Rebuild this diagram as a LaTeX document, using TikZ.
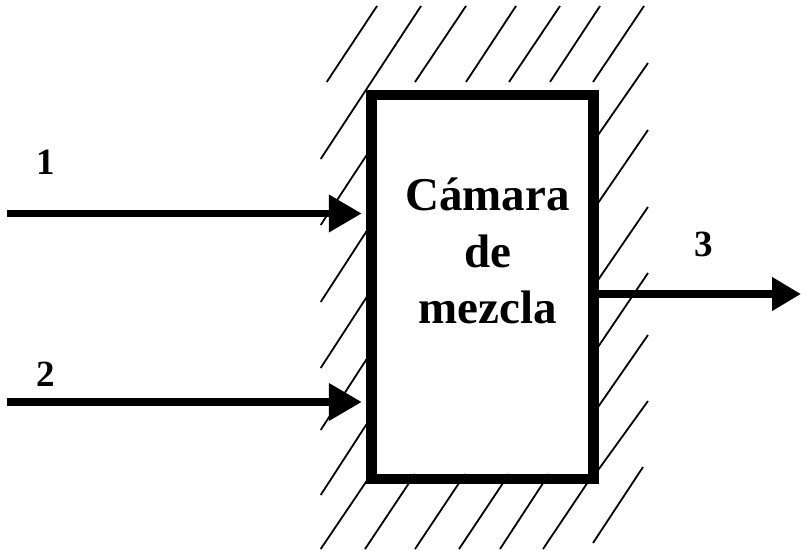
\documentclass[tikz,border=0pt]{standalone}
\usepackage{fontspec}
\setmainfont{Liberation Serif}
\usetikzlibrary{arrows.meta}
\begin{document}
\begin{tikzpicture}[x=1pt,y=-1pt,
  hatch/.style={line width=1.8pt},
  chamber/.style={draw, fill=white, line width=10.5pt,
    minimum width=222pt, minimum height=384pt, inner sep=0pt},
  flow/.style={line width=7.5pt, -{Triangle[length=33pt,width=36pt]}},
  outflow/.style={line width=7.5pt, -{Triangle[length=29pt,width=32pt]}},
  inlabel/.style={font=\bfseries\fontsize{47}{56}\selectfont, anchor=base, inner sep=0pt},
  numlabel/.style={font=\bfseries\fontsize{37}{42}\selectfont, anchor=base, inner sep=0pt}]
\useasboundingbox (0,0) rectangle (801,551);

% wall hatching around the chamber
% top
\draw[hatch] (326.7,82) -- (377,6);
\draw[hatch] (320.7,159) -- (421,6);
\draw[hatch] (415,82) -- (466,6);
\draw[hatch] (466,82) -- (516,6);
\draw[hatch] (509,82) -- (560,6);
\draw[hatch] (550,82) -- (600,6);
\draw[hatch] (593,82) -- (644,6);
% left
\draw[hatch] (320.7,225) -- (368,153);
\draw[hatch] (320.7,302) -- (368,229);
\draw[hatch] (320.7,368) -- (368,295);
\draw[hatch] (320.7,430) -- (368,357);
\draw[hatch] (320.7,495) -- (368,422);
\draw[hatch] (320.7,549) -- (368,479);
% right
\draw[hatch] (596,138) -- (648,63);
\draw[hatch] (596,206) -- (648,130);
\draw[hatch] (596,283) -- (648,207);
\draw[hatch] (596,350) -- (648,273);
\draw[hatch] (596,410) -- (648,335);
\draw[hatch] (596,473) -- (648,401);
\draw[hatch] (593,543) -- (643,467);

% mixing chamber
\node[chamber] (cam) at (482.5,287) {};
\node[inlabel] (cam1) at (487.5,210) {Cámara};
\node[inlabel] (cam2) at (487.5,267) {de};
\node[inlabel] (cam3) at (487.5,323) {mezcla};

% bottom hatching
\draw[hatch] (415,474) -- (365,549);
\draw[hatch] (465,474) -- (415,549);
\draw[hatch] (509,474) -- (459,549);
\draw[hatch] (549,474) -- (500,549);
\draw[hatch] (590,479) -- (543,549);

% streams
\coordinate (s1) at (7,213.5);
\coordinate (s2) at (7,402);
\coordinate (e3) at (801,294);
\draw[flow, shorten >=4.5pt] (s1) -- (s1 -| cam.west);
\draw[flow, shorten >=4.5pt] (s2) -- (s2 -| cam.west);
\draw[outflow] (e3 -| cam.east) -- (e3);

\node[numlabel] (n1) at (45.5,174) {1};
\node[numlabel] (n2) at (46,386.7) {2};
\node[numlabel] (n3) at (704,256.7) {3};
\end{tikzpicture}
\end{document}
